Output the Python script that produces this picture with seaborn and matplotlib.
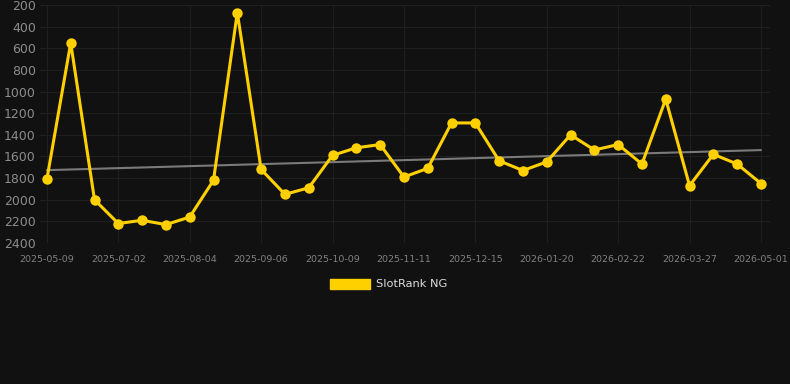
import numpy as np
import pandas as pd
import seaborn as sns
from matplotlib import pyplot as plt
from matplotlib.patches import Patch

# dates of each measurement (axis is categorical, one slot per point)
dates = ['2025-05-09', '2025-05-27', '2025-06-14', '2025-07-02', '2025-07-13',
         '2025-07-24', '2025-08-04', '2025-08-15', '2025-08-26', '2025-09-06',
         '2025-09-17', '2025-09-28', '2025-10-09', '2025-10-20', '2025-10-31',
         '2025-11-11', '2025-11-22', '2025-12-03', '2025-12-15', '2025-12-27',
         '2026-01-08', '2026-01-20', '2026-01-31', '2026-02-11', '2026-02-22',
         '2026-03-05', '2026-03-16', '2026-03-27', '2026-04-08', '2026-04-19',
         '2026-05-01']
rank = [1810, 550, 2000, 2220, 2190, 2230, 2160, 1820, 270, 1720,
        1950, 1890, 1590, 1520, 1490, 1790, 1710, 1290, 1290, 1640,
        1730, 1650, 1400, 1540, 1490, 1670, 1070, 1870, 1580, 1670,
        1850]
y_ticks = [200, 400, 600, 800, 1000, 1200, 1400, 1600, 1800, 2000, 2200, 2400]

df = pd.DataFrame({'pos': np.arange(len(dates)), 'date': dates, 'rank': rank})

bg = '#111111'
sns.set_theme(style='dark')
plt.rcParams['font.family'] = ['DejaVu Sans']

fig = plt.figure(figsize=(7.9, 3.84), dpi=100, facecolor=bg)
ax = fig.add_axes([40 / 790, 141 / 384, 730 / 790, 238 / 384])
ax.set_facecolor(bg)

# trend line
coef = np.polyfit(df['pos'], df['rank'], 1)
ax.plot(df['pos'], np.polyval(coef, df['pos']), color='#7a7a7a', lw=1.5, zorder=2)

sns.lineplot(data=df, x='pos', y='rank', ax=ax, color='#FFD000', lw=2.2,
             marker='o', markersize=7.5, markeredgewidth=0, sort=False, zorder=3)

tick_pos = df['pos'][::3]
ax.set_xticks(tick_pos)
ax.set_xticklabels(df['date'][::3], fontsize=6.8, color='#808080')
ax.set_yticks(y_ticks)
ax.set_yticklabels([str(v) for v in y_ticks], fontsize=9, color='#8c8c8c')
ax.set_xlim(-0.29, 30.38)
ax.set_ylim(2400, 200)
ax.grid(True, color='#1f1f1f', lw=0.8)
ax.tick_params(axis='y', length=0, pad=3)
ax.tick_params(axis='x', length=6, width=0.8, color='#1f1f1f', pad=3)
for s in ax.spines.values():
    s.set_visible(False)
ax.set_xlabel('')
ax.set_ylabel('')

fig.legend(handles=[Patch(color='#FFD000', label='SlotRank NG')],
           loc='center', bbox_to_anchor=(0.492, 1 - 284 / 384), frameon=False,
           fontsize=8.2, labelcolor='#dddddd', handlelength=3.5, handleheight=1.0,
           handletextpad=0.5)

plt.savefig('out.png', dpi=100, facecolor=bg)
